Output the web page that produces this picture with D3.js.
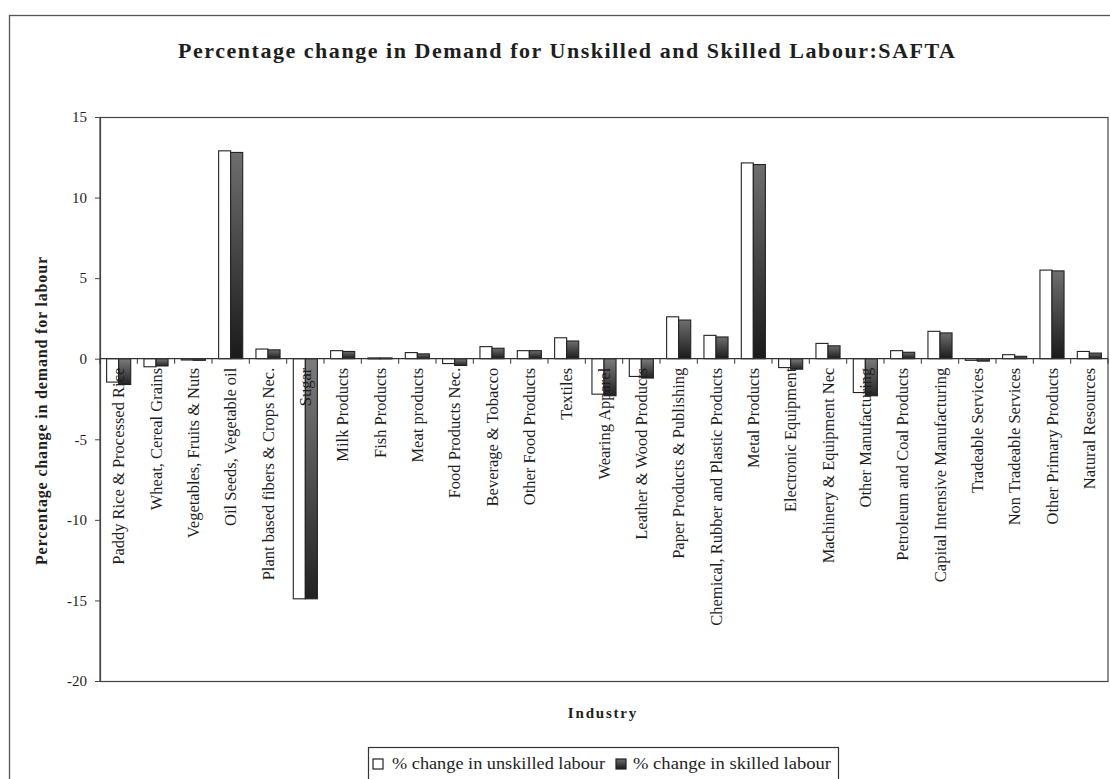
<!DOCTYPE html>
<html>
<head>
<meta charset="utf-8">
<script src="https://cdn.jsdelivr.net/npm/d3@7"></script>
<style>
  html, body { margin: 0; padding: 0; background: #fff; }
  svg { display: block; }
  text { font-family: "Liberation Serif", "Times New Roman", serif; fill: #1e1e1e; }
</style>
</head>
<body>
<svg id="chart" width="1110" height="779"></svg>
<script>
const categories = [
  "Paddy Rice & Processed Rice", "Wheat, Cereal Grains", "Vegetables, Fruits & Nuts",
  "Oil Seeds, Vegetable oil", "Plant based fibers & Crops Nec.", "Sugar", "Milk Products",
  "Fish Products", "Meat products", "Food Products Nec.", "Beverage & Tobacco",
  "Other Food Products", "Textiles", "Wearing Apparel", "Leather & Wood Products",
  "Paper Products & Publishing", "Chemical, Rubber and Plastic Products", "Metal Products",
  "Electronic Equipment", "Machinery & Equipment Nec", "Other Manufacturing",
  "Petroleum and Coal Products", "Capital Intensive Manufacturing", "Tradeable Services",
  "Non Tradeable Services", "Other Primary Products", "Natural Resources"
];
const unskilled = [-1.45, -0.5, -0.08, 12.9, 0.6, -14.9, 0.5, 0.05, 0.38, -0.3, 0.75,
  0.5, 1.3, -2.2, -1.1, 2.6, 1.45, 12.15, -0.55, 0.95, -2.1, 0.5, 1.7, -0.1, 0.25, 5.5, 0.45];
const skilled = [-1.6, -0.45, -0.1, 12.8, 0.55, -14.9, 0.45, 0.05, 0.3, -0.42, 0.65,
  0.5, 1.1, -2.3, -1.2, 2.4, 1.35, 12.05, -0.65, 0.8, -2.3, 0.4, 1.6, -0.15, 0.15, 5.45, 0.35];
const seriesNames = ["% change in unskilled labour", "% change in skilled labour"];
const yTicks = [-20, -15, -10, -5, 0, 5, 10, 15];

const svg = d3.select("#chart");
const W = 1110, H = 779;
const plot = { left: 100, right: 1108, top: 117, bottom: 681 };

svg.append("rect").attr("width", W).attr("height", H).attr("fill", "#fff");

// gradients for skilled bars
const defs = svg.append("defs");
const grad = defs.append("linearGradient").attr("id", "darkGrad")
  .attr("x1", 0).attr("y1", 0).attr("x2", 0).attr("y2", 1);
grad.append("stop").attr("offset", "0%").attr("stop-color", "#6e6e6e");
grad.append("stop").attr("offset", "100%").attr("stop-color", "#1a1a1a");
const gradNeg = defs.append("linearGradient").attr("id", "darkGradNeg")
  .attr("x1", 0).attr("y1", 0).attr("x2", 0).attr("y2", 1);
gradNeg.append("stop").attr("offset", "0%").attr("stop-color", "#7c7c7c");
gradNeg.append("stop").attr("offset", "100%").attr("stop-color", "#222");

// outer frame
svg.append("rect").attr("x", 9.5).attr("y", 15.5).attr("width", 1120).attr("height", 800)
  .attr("fill", "none").attr("stroke", "#555").attr("stroke-width", 1.3);

// scales
const y = d3.scaleLinear().domain([-20, 15]).range([plot.bottom, plot.top]);
const x0 = d3.scaleBand().domain(categories).range([plot.left, plot.right]).padding(0);
const x1 = d3.scaleBand().domain(["u", "s"]).range([0, x0.bandwidth()])
  .paddingInner(0).paddingOuter(0.55);

// plot border
svg.append("rect").attr("x", plot.left).attr("y", plot.top + 0.5)
  .attr("width", plot.right - plot.left).attr("height", plot.bottom - plot.top)
  .attr("fill", "none").attr("stroke", "#444").attr("stroke-width", 1.2);

// y axis
const yAxis = svg.append("g").attr("transform", `translate(${plot.left},0)`)
  .call(d3.axisLeft(y).tickValues(yTicks).tickSize(5).tickPadding(8).tickFormat(d => String(d)));
yAxis.select(".domain").attr("stroke", "#444").attr("stroke-width", 1.2);
yAxis.selectAll(".tick line").attr("stroke", "#444");
yAxis.selectAll(".tick text").style("font-size", "15px")
  .style("font-family", "'Liberation Serif', serif").attr("fill", "#222");

const y0 = y(0);

// bars
const groups = svg.append("g").selectAll("g").data(categories).join("g")
  .attr("transform", d => `translate(${x0(d)},0)`);
groups.append("rect")
  .attr("x", x1("u")).attr("width", x1.bandwidth())
  .attr("y", (d, i) => y(Math.max(0, unskilled[i])))
  .attr("height", (d, i) => Math.max(1, Math.abs(y(unskilled[i]) - y(0))))
  .attr("fill", "#fff").attr("stroke", "#222").attr("stroke-width", 1.1);
groups.append("rect")
  .attr("x", x1("s")).attr("width", x1.bandwidth())
  .attr("y", (d, i) => y(Math.max(0, skilled[i])))
  .attr("height", (d, i) => Math.max(1, Math.abs(y(skilled[i]) - y(0))))
  .attr("fill", (d, i) => skilled[i] >= 0 ? "url(#darkGrad)" : "url(#darkGradNeg)")
  .attr("stroke", "#222").attr("stroke-width", 1.1);

// x axis at zero with boundary ticks
const xAxisG = svg.append("g");
xAxisG.append("line").attr("x1", plot.left).attr("x2", plot.right)
  .attr("y1", y0).attr("y2", y0).attr("stroke", "#333").attr("stroke-width", 1.3);
const bounds = categories.map(c => x0(c)).concat([plot.right]);
xAxisG.selectAll("line.tk").data(bounds).join("line").attr("class", "tk")
  .attr("x1", d => d).attr("x2", d => d).attr("y1", y0).attr("y2", y0 + 5)
  .attr("stroke", "#333").attr("stroke-width", 1);

// category labels (rotated), drawn on top
svg.append("g").selectAll("text").data(categories).join("text")
  .attr("transform", d => `translate(${x0(d) + x0.bandwidth() / 2 + 5.5},${y0 + 9}) rotate(-90)`)
  .attr("text-anchor", "end")
  .style("font-size", "16.5px")
  .text(d => d);

// title
svg.append("text").attr("x", 178).attr("y", 58)
  .attr("textLength", 777).attr("lengthAdjust", "spacing")
  .style("font-size", "22px").style("font-weight", "bold")
  .text("Percentage change in Demand for Unskilled and Skilled Labour:SAFTA");

// y label
svg.append("text").attr("transform", "translate(47,411) rotate(-90)")
  .attr("text-anchor", "middle")
  .attr("textLength", 308).attr("lengthAdjust", "spacing")
  .style("font-size", "16px").style("font-weight", "bold")
  .text("Percentage change in demand for labour");

// x label
svg.append("text").attr("x", 603).attr("y", 718).attr("text-anchor", "middle")
  .style("font-size", "15px").style("font-weight", "bold").style("letter-spacing", "1.8px")
  .text("Industry");

// legend
const lg = svg.append("g");
lg.append("rect").attr("x", 368.5).attr("y", 747.5).attr("width", 470).attr("height", 40)
  .attr("fill", "#fff").attr("stroke", "#333").attr("stroke-width", 1.2);
const legendItems = [
  { name: seriesNames[0], fill: "#fff", sx: 373, tx: 392, len: 213 },
  { name: seriesNames[1], fill: "url(#darkGrad)", sx: 616, tx: 633, len: 198 }
];
legendItems.forEach(it => {
  lg.append("rect").attr("x", it.sx).attr("y", 759).attr("width", 10).attr("height", 10)
    .attr("fill", it.fill).attr("stroke", "#222").attr("stroke-width", 1.2);
  lg.append("text").attr("x", it.tx).attr("y", 769)
    .attr("textLength", it.len).attr("lengthAdjust", "spacingAndGlyphs")
    .style("font-size", "17px").text(it.name);
});
</script>
</body>
</html>
